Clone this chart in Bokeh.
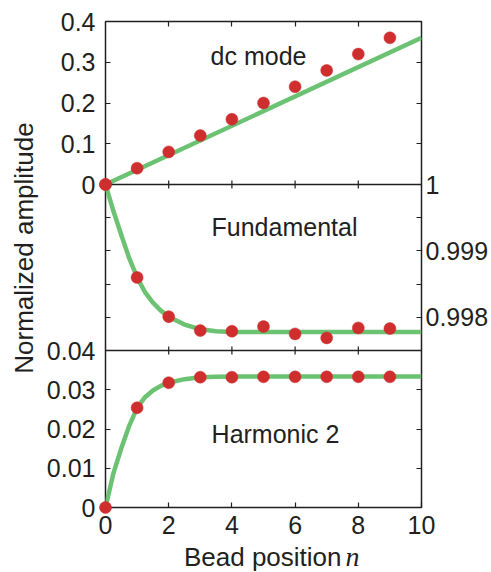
import numpy as np
from bokeh.plotting import figure
from bokeh.models import Range1d, LinearAxis, FixedTicker, Span, Label
from bokeh.core.properties import value
from bokeh.embed import file_html
from bokeh.resources import INLINE

# ---------------- data ----------------
bead_n = [0, 1, 2, 3, 4, 5, 6, 7, 8, 9]

dc_points = [0.0, 0.04, 0.08, 0.12, 0.16, 0.20, 0.24, 0.28, 0.32, 0.36]
dc_fit_n = [0, 10]
dc_fit = [0.0, 0.36]

fund_points = [1.0, 0.99860, 0.99801, 0.99780, 0.99779, 0.99786, 0.99775, 0.99769, 0.99784, 0.99783]
fund_fit_n = [0, 0.25, 0.5, 0.75, 1, 1.25, 1.5, 1.75, 2, 2.5, 3, 3.5, 4, 5, 6, 7, 8, 9, 10]
fund_fit = [1.0, 0.99960, 0.99924, 0.99889, 0.99860, 0.99838, 0.99822, 0.99810, 0.99801,
            0.99789, 0.99782, 0.99779, 0.99778, 0.99778, 0.99778, 0.99778, 0.99778, 0.99778, 0.99778]

harm_points = [0.0, 0.0254, 0.0318, 0.0332, 0.0332, 0.0333, 0.0333, 0.0333, 0.0333, 0.0333]
harm_fit_n = [0, 0.25, 0.5, 0.75, 1, 1.25, 1.5, 1.75, 2, 2.5, 3, 3.5, 4, 5, 6, 7, 8, 9, 10]
harm_fit = [0.0, 0.0087, 0.0151, 0.0208, 0.0254, 0.0281, 0.0298, 0.0310, 0.0318,
            0.0327, 0.0332, 0.0333, 0.0334, 0.0334, 0.0334, 0.0334, 0.0334, 0.0334, 0.0334]

x_ticks = [0, 2, 4, 6, 8, 10]
inner_x_ticks = [2, 4, 6, 8]
p1_ticks = [0.0, 0.1, 0.2, 0.3, 0.4]
p2_ticks = [1.0, 0.999, 0.998]
p2_minor = [0.9995, 0.9985]
p3_ticks = [0.0, 0.01, 0.02, 0.03, 0.04]
p1_labels = ["0", "0.1", "0.2", "0.3", "0.4"]
p2_labels = ["1", "0.999", "0.998"]
p3_labels = ["0", "0.01", "0.02", "0.03", "0.04"]

# ---------------- layout ----------------
H1, H2, H3 = 163, 166, 157          # panel heights (px)
H = H1 + H2 + H3
FW = 316
bands = {"default": (H2 + H3, H1, 0.0, 0.4),
         "p2": (H3, H2, 0.9975, 1.0),
         "p3": (0, H3, 0.0, 0.04)}


def to_px(v, name):
    b0, h, lo, hi = bands[name]
    return b0 + (v - lo) / (hi - lo) * h


def from_px(px, name):
    b0, h, lo, hi = bands[name]
    return lo + (px - b0) / h * (hi - lo)


def conv(v, src, dst):
    return from_px(to_px(v, src), dst)


def xdata(px):
    return px / FW * 10.0


def ypage(page_y, name):
    # page y (px from top; frame top at 21) -> data value in range `name`
    return from_px(H - (page_y - 21), name)


FONT = "Liberation Sans"
TXT = "#231f20"
RED = "#cf2e2e"
GREEN = "#6cc273"

p = figure(width=491, height=572,
           x_range=Range1d(0, 10),
           y_range=Range1d(from_px(0, "default"), from_px(H, "default")),
           output_backend="svg", toolbar_location=None,
           min_border_left=105, min_border_right=70,
           min_border_top=21, min_border_bottom=65)
p.extra_y_ranges = {"p2": Range1d(from_px(0, "p2"), from_px(H, "p2")),
                    "p3": Range1d(from_px(0, "p3"), from_px(H, "p3"))}
p.grid.visible = False
p.outline_line_color = TXT
p.outline_line_width = 1.5
p.background_fill_color = "white"
p.border_fill_color = "white"


def style_axis(ax, size="25px"):
    ax.axis_line_color = None
    ax.major_tick_in = 5
    ax.major_tick_out = 0
    ax.minor_tick_in = 5
    ax.minor_tick_out = 0
    ax.major_tick_line_color = TXT
    ax.minor_tick_line_color = TXT
    ax.major_tick_line_width = 1.2
    ax.minor_tick_line_width = 1.2
    ax.major_label_text_font = FONT
    ax.major_label_text_font_size = size
    ax.major_label_text_color = TXT


# left axis: panel 1 and panel 3 labels, panel 2 unlabeled ticks
left = p.yaxis[0]
left_major = list(p1_ticks) + [conv(v, "p3", "default") for v in p3_ticks]
left_labels = list(p1_labels) + list(p3_labels)
left_minor = [conv(v, "p2", "default") for v in p2_ticks[1:] + p2_minor]
left.ticker = FixedTicker(ticks=left_major, minor_ticks=left_minor)
left.major_label_overrides = {t: s for t, s in zip(left_major, left_labels)}
style_axis(left)
left.major_label_standoff = 10

# right axis: panel 2 labels, others unlabeled
right = LinearAxis(y_range_name="p2")
right_minor = list(p2_minor) + [conv(v, "default", "p2") for v in p1_ticks[1:4]] + \
    [conv(v, "p3", "p2") for v in p3_ticks[1:4]]
right.ticker = FixedTicker(ticks=p2_ticks, minor_ticks=right_minor)
right.major_label_overrides = {t: s for t, s in zip(p2_ticks, p2_labels)}
style_axis(right)
right.major_label_standoff = 4
p.add_layout(right, "right")

# bottom axis
bottom = p.xaxis[0]
bottom.ticker = FixedTicker(ticks=x_ticks)
style_axis(bottom)
bottom.major_label_standoff = 8

# top axis (tick marks only, no labels)
top = LinearAxis()
top.ticker = FixedTicker(ticks=[], minor_ticks=inner_x_ticks)
style_axis(top, size="0px")
top.major_label_standoff = 0
p.add_layout(top, "above")

# panel separators
p.add_layout(Span(location=0.0, dimension="width",
                  line_color=TXT, line_width=1.5))
p.add_layout(Span(location=0.04, dimension="width", y_range_name="p3",
                  line_color=TXT, line_width=1.5))
for yv, rn in [(0.0, "default"), (0.04, "p3")]:
    p.scatter(x=inner_x_ticks, y=[yv] * len(inner_x_ticks), y_range_name=rn,
              marker="dash", angle=np.pi / 2, size=8, line_color=TXT, line_width=1.2)

# fits
p.line(dc_fit_n, dc_fit, line_color=GREEN, line_width=4.5)
p.line(fund_fit_n, fund_fit, y_range_name="p2", line_color=GREEN, line_width=4.5,
       line_join="round")
p.line(harm_fit_n, harm_fit, y_range_name="p3", line_color=GREEN, line_width=4.5,
       line_join="round")

# data points
for ys, rn in [(dc_points, "default"), (fund_points, "p2"), (harm_points, "p3")]:
    r = p.scatter(bead_n, ys, y_range_name=rn, size=12, fill_color=RED,
                  line_color=RED, line_width=0.5)
    r.level = "overlay"

# panel annotations
p.add_layout(Label(x=xdata(153), y=ypage(55, "default"),
                   text="dc mode", text_align="center", text_baseline="alphabetic",
                   text_font=FONT, text_font_size="25px", text_color=TXT))
p.add_layout(Label(x=xdata(179), y=ypage(226, "p2"), y_range_name="p2",
                   text="Fundamental", text_align="center", text_baseline="alphabetic",
                   text_font=FONT, text_font_size="25px", text_color=TXT))
p.add_layout(Label(x=xdata(170), y=ypage(433, "p3"), y_range_name="p3",
                   text="Harmonic 2", text_align="center", text_baseline="alphabetic",
                   text_font=FONT, text_font_size="25px", text_color=TXT))

# axis titles: text glyphs at overlay level so they are not clipped to the frame
yb = ypage(556, "p3")
p.text(x=[xdata(236)], y=[yb], y_range_name="p3", text=["Bead position"],
       text_align="right", text_baseline="alphabetic", text_font=value(FONT),
       text_font_size=value("26px"), text_color=TXT, level="overlay")
p.text(x=[xdata(240)], y=[yb], y_range_name="p3", text=["n"],
       text_align="left", text_baseline="alphabetic", text_font=value("Liberation Serif"),
       text_font_style="italic", text_font_size=value("28px"), text_color=TXT,
       level="overlay")
p.text(x=[xdata(-82)], y=[ypage(247.5, "default")],
       text=["Normalized amplitude"], angle=np.pi / 2,
       text_align="center", text_baseline="middle", text_font=value(FONT),
       text_font_size=value("26px"), text_color=TXT, level="overlay")

open("out.html", "w").write(file_html(p, INLINE))
